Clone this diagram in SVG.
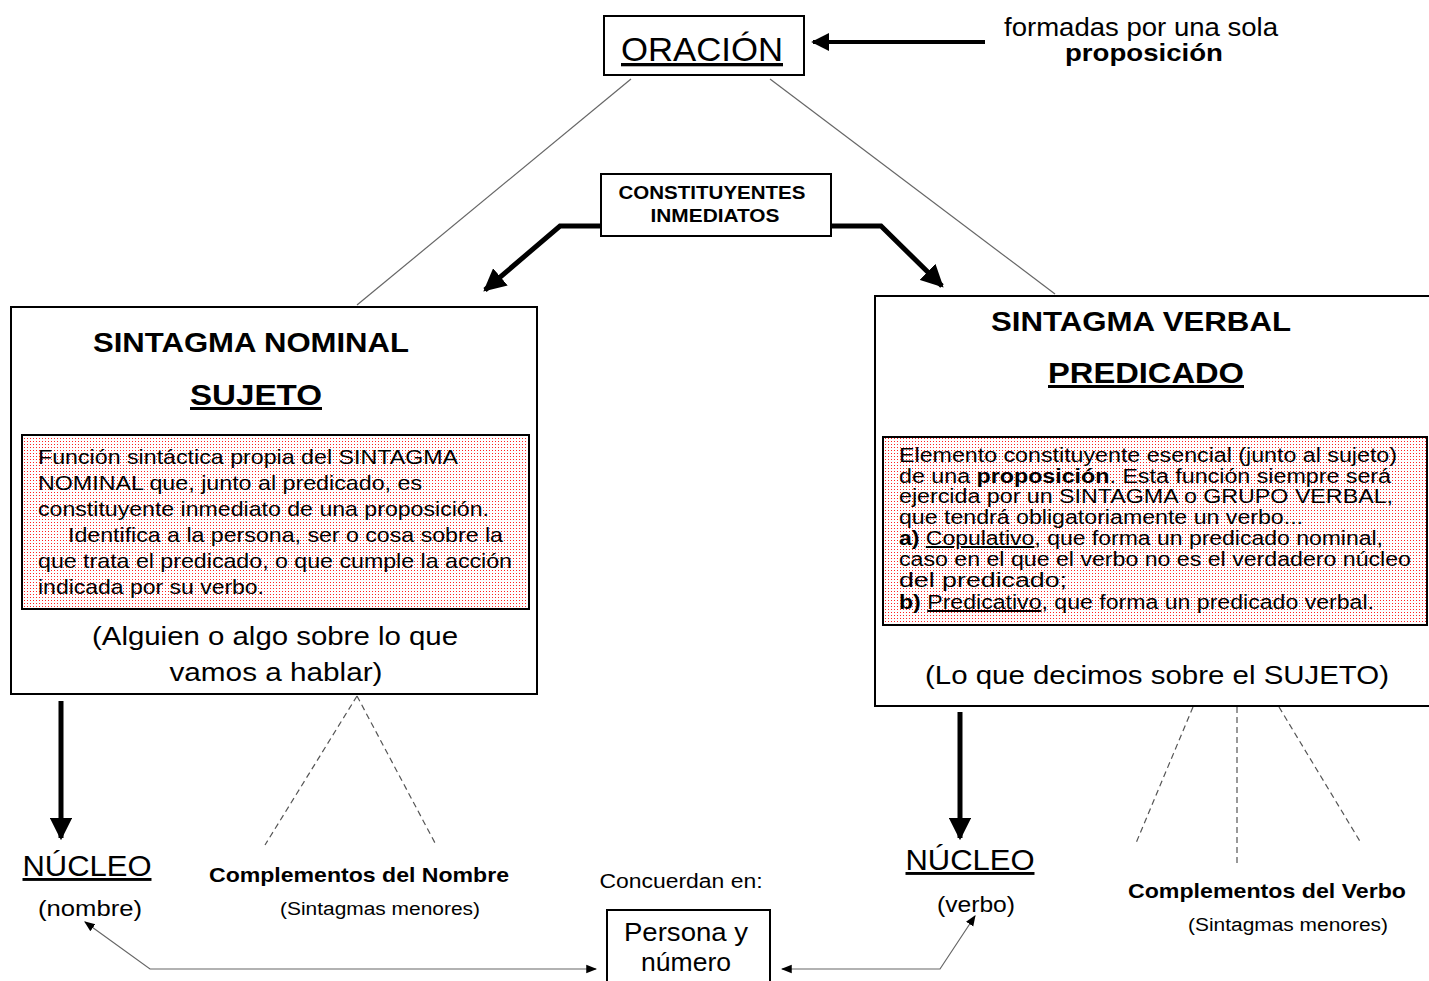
<svg xmlns="http://www.w3.org/2000/svg" width="1429" height="981" viewBox="0 0 1429 981">
<defs>
  <pattern id="dots" width="3" height="3" patternUnits="userSpaceOnUse">
    <rect width="3" height="3" fill="#fff"/>
    <rect width="1" height="1" fill="#f22"/>
  </pattern>
  <marker id="big" viewBox="0 0 10 10" refX="9" refY="5" markerWidth="4.5" markerHeight="4.5" orient="auto" markerUnits="strokeWidth">
    <path d="M0,0 L10,5 L0,10 z" fill="#000"/>
  </marker>
  <marker id="small" viewBox="0 0 10 10" refX="9" refY="5" markerWidth="9" markerHeight="9" orient="auto-start-reverse" markerUnits="strokeWidth">
    <path d="M0,1 L10,5 L0,9 z" fill="#000"/>
  </marker>
</defs>
<style>
  text { font-family: "Liberation Sans", Arial, sans-serif; fill: #000; }
  .box { fill: #fff; stroke: #000; stroke-width: 2; }
  .inner { fill: url(#dots); stroke: #000; stroke-width: 2; }
  .thin { fill: none; stroke: #666; stroke-width: 1.2; }
  .dash { fill: none; stroke: #555; stroke-width: 1.2; stroke-dasharray: 6 4; }
  .thick { fill: none; stroke: #000; stroke-width: 5; }
  .b { font-weight: bold; }
  .c { text-anchor: middle; }
  .u { text-decoration: underline; }
</style>

<g id="connectors">
  <line class="thin" x1="631" y1="79" x2="357" y2="305"/>
  <line class="thin" x1="770" y1="79" x2="1055" y2="294"/>
  <line class="thick" x1="985" y1="42" x2="813" y2="42" style="stroke-width:4" marker-end="url(#big)"/>
  <polyline class="thick" points="604,226 560,226 485,290" marker-end="url(#big)"/>
  <polyline class="thick" points="829,226 881,226 942,286" marker-end="url(#big)"/>
  <line class="thick" x1="61" y1="701" x2="61" y2="838" marker-end="url(#big)"/>
  <line class="thick" x1="960" y1="712" x2="960" y2="838" marker-end="url(#big)"/>
  <line class="dash" x1="357" y1="696" x2="265" y2="845"/>
  <line class="dash" x1="357" y1="696" x2="435" y2="843"/>
  <line class="dash" x1="1193" y1="707" x2="1136" y2="843"/>
  <line class="dash" x1="1237" y1="707" x2="1237" y2="866"/>
  <line class="dash" x1="1279" y1="707" x2="1361" y2="843"/>
  <polyline class="thin" points="85,922 150,969 596,969" marker-start="url(#small)" marker-end="url(#small)"/>
  <polyline class="thin" points="782,969 940,969 975,916" marker-start="url(#small)" marker-end="url(#small)"/>
</g>

<g id="oracion">
  <rect class="box" x="604" y="16" width="200" height="59"/>
  <text class="c u" x="702" y="61" font-size="33" textLength="162" lengthAdjust="spacingAndGlyphs">ORACIÓN</text>
</g>

<g id="nota-proposicion">
  <text class="c" x="1141" y="36" font-size="25" textLength="274" lengthAdjust="spacingAndGlyphs">formadas por una sola</text>
  <text class="c b" x="1144" y="61" font-size="24" textLength="158" lengthAdjust="spacingAndGlyphs">proposición</text>
</g>

<g id="constituyentes">
  <rect class="box" x="601" y="174" width="230" height="62"/>
  <text class="c b" x="712" y="199" font-size="18" textLength="187" lengthAdjust="spacingAndGlyphs">CONSTITUYENTES</text>
  <text class="c b" x="715" y="222" font-size="18" textLength="129" lengthAdjust="spacingAndGlyphs">INMEDIATOS</text>
</g>

<g id="sintagma-nominal">
  <rect class="box" x="11" y="307" width="526" height="387"/>
  <text class="c b" x="251" y="352" font-size="27" textLength="316" lengthAdjust="spacingAndGlyphs">SINTAGMA NOMINAL</text>
  <text class="c b u" x="256" y="405" font-size="30" textLength="132" lengthAdjust="spacingAndGlyphs">SUJETO</text>
  <rect class="inner" x="22" y="435" width="507" height="174"/>
  <g font-size="21">
    <text x="38" y="464" textLength="420" lengthAdjust="spacingAndGlyphs">Función sintáctica propia del SINTAGMA</text>
    <text x="38" y="490" textLength="384" lengthAdjust="spacingAndGlyphs">NOMINAL que, junto al predicado, es</text>
    <text x="38" y="516" textLength="451" lengthAdjust="spacingAndGlyphs">constituyente inmediato de una proposición.</text>
    <text x="68" y="542" textLength="435" lengthAdjust="spacingAndGlyphs">Identifica a la persona, ser o cosa sobre la</text>
    <text x="38" y="568" textLength="474" lengthAdjust="spacingAndGlyphs">que trata el predicado, o que cumple la acción</text>
    <text x="38" y="594" textLength="226" lengthAdjust="spacingAndGlyphs">indicada por su verbo.</text>
  </g>
  <text class="c" x="275" y="645" font-size="26" textLength="366" lengthAdjust="spacingAndGlyphs">(Alguien o algo sobre lo que</text>
  <text class="c" x="276" y="681" font-size="26" textLength="213" lengthAdjust="spacingAndGlyphs">vamos a hablar)</text>
</g>

<g id="sintagma-verbal">
  <rect class="box" x="875" y="296" width="560" height="410"/>
  <text class="c b" x="1141" y="331" font-size="27" textLength="300" lengthAdjust="spacingAndGlyphs">SINTAGMA VERBAL</text>
  <text class="c b u" x="1146" y="383" font-size="30" textLength="196" lengthAdjust="spacingAndGlyphs">PREDICADO</text>
  <rect class="inner" x="883" y="437" width="544" height="188"/>
  <g font-size="20">
    <text x="899" y="462" textLength="498" lengthAdjust="spacingAndGlyphs">Elemento constituyente esencial (junto al sujeto)</text>
    <text x="899" y="483" textLength="492" lengthAdjust="spacingAndGlyphs">de una <tspan class="b">proposición</tspan>. Esta función siempre será</text>
    <text x="899" y="503" textLength="494" lengthAdjust="spacingAndGlyphs">ejercida por un SINTAGMA o GRUPO VERBAL,</text>
    <text x="899" y="524" textLength="404" lengthAdjust="spacingAndGlyphs">que tendrá obligatoriamente un verbo...</text>
    <text x="899" y="545" textLength="484" lengthAdjust="spacingAndGlyphs"><tspan class="b">a)</tspan> <tspan class="u">Copulativo</tspan>, que forma un predicado nominal,</text>
    <text x="899" y="566" textLength="512" lengthAdjust="spacingAndGlyphs">caso en el que el verbo no es el verdadero núcleo</text>
    <text x="899" y="587" textLength="168" lengthAdjust="spacingAndGlyphs">del predicado;</text>
    <text x="899" y="609" textLength="475" lengthAdjust="spacingAndGlyphs"><tspan class="b">b)</tspan> <tspan class="u">Predicativo</tspan>, que forma un predicado verbal.</text>
  </g>
  <text class="c" x="1157" y="684" font-size="26" textLength="464" lengthAdjust="spacingAndGlyphs">(Lo que decimos sobre el SUJETO)</text>
</g>

<g id="nucleo-nombre">
  <text class="c u" x="87" y="876" font-size="29" textLength="129" lengthAdjust="spacingAndGlyphs">NÚCLEO</text>
  <text class="c" x="90" y="916" font-size="22" textLength="104" lengthAdjust="spacingAndGlyphs">(nombre)</text>
</g>

<g id="complementos-nombre">
  <text class="c b" x="359" y="882" font-size="21" textLength="300" lengthAdjust="spacingAndGlyphs">Complementos del Nombre</text>
  <text class="c" x="380" y="915" font-size="18" textLength="200" lengthAdjust="spacingAndGlyphs">(Sintagmas menores)</text>
</g>

<g id="concuerdan">
  <text class="c" x="681" y="888" font-size="20" textLength="163" lengthAdjust="spacingAndGlyphs">Concuerdan en:</text>
  <rect class="box" x="607" y="910" width="163" height="80"/>
  <text class="c" x="686" y="941" font-size="25" textLength="124" lengthAdjust="spacingAndGlyphs">Persona y</text>
  <text class="c" x="686" y="971" font-size="25" textLength="90" lengthAdjust="spacingAndGlyphs">número</text>
</g>

<g id="nucleo-verbo">
  <text class="c u" x="970" y="870" font-size="29" textLength="129" lengthAdjust="spacingAndGlyphs">NÚCLEO</text>
  <text class="c" x="976" y="912" font-size="22" textLength="78" lengthAdjust="spacingAndGlyphs">(verbo)</text>
</g>

<g id="complementos-verbo">
  <text class="c b" x="1267" y="898" font-size="21" textLength="278" lengthAdjust="spacingAndGlyphs">Complementos del Verbo</text>
  <text class="c" x="1288" y="931" font-size="18" textLength="200" lengthAdjust="spacingAndGlyphs">(Sintagmas menores)</text>
</g>
</svg>
